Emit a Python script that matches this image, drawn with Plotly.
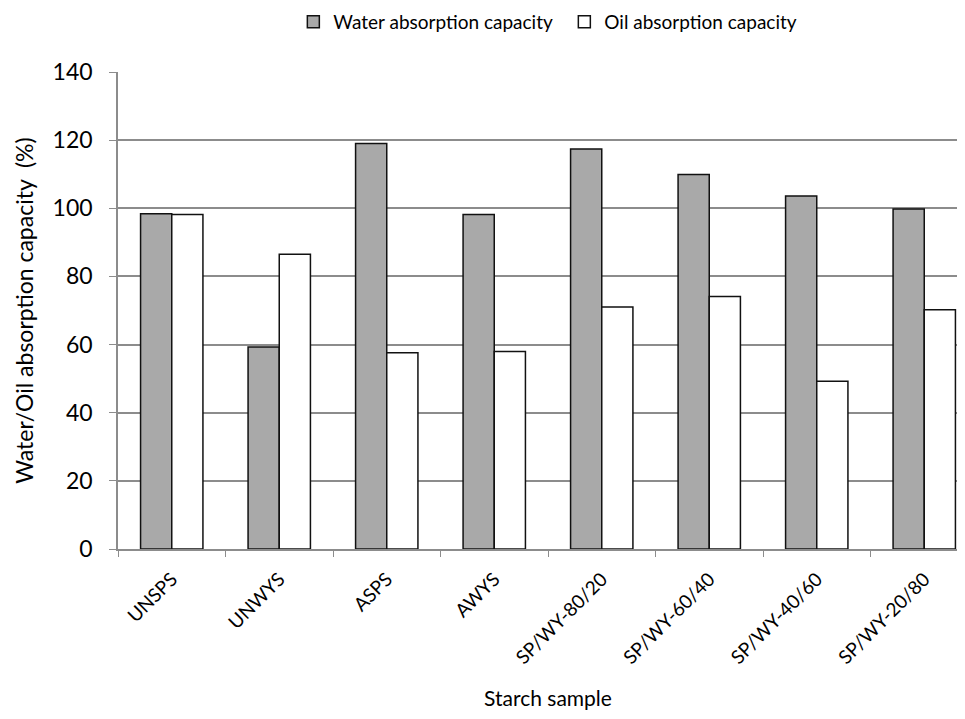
import plotly.graph_objects as go

categories = ["UNSPS", "UNWYS", "ASPS", "AWYS", "SP/WY-80/20", "SP/WY-60/40", "SP/WY-40/60", "SP/WY-20/80"]
water = [98.4, 59.3, 119.0, 98.2, 117.4, 109.9, 103.6, 99.8]
oil = [98.2, 86.5, 57.6, 58.0, 71.0, 74.1, 49.2, 70.2]
y_ticks = [0, 20, 40, 60, 80, 100, 120, 140]

FONT = "Lato, 'Open Sans', sans-serif"

fig = go.Figure()
fig.add_trace(go.Bar(x=categories, y=water, name="Water absorption capacity",
                     marker=dict(color="#a9a9a9", line=dict(color="#111111", width=1.5))))
fig.add_trace(go.Bar(x=categories, y=oil, name="Oil absorption capacity",
                     marker=dict(color="#ffffff", line=dict(color="#111111", width=1.5))))

fig.update_layout(
    width=975, height=719,
    barmode="group", bargap=0.42, bargroupgap=0,
    plot_bgcolor="white", paper_bgcolor="white",
    margin=dict(l=110, r=5, t=64, b=178, autoexpand=False),
    font=dict(family=FONT, color="#000000", size=19),
    legend=dict(orientation="h", x=0.519, xanchor="center", y=1.105, yanchor="middle",
                font=dict(size=19), itemwidth=30, entrywidth=226, traceorder="normal"),
    showlegend=True,
)
fig.update_yaxes(range=[0, 140], tickvals=y_ticks, showgrid=True, gridcolor="#8c8c8c", gridwidth=1.5,
                 showline=True, linecolor="#8c8c8c", linewidth=1.5, ticks="outside", ticklen=7,
                 tickcolor="#8c8c8c", tickfont=dict(size=23), zeroline=False, ticklabelstandoff=12,
                 title=dict(text="Water/Oil absorption capacity  (%)", font=dict(size=23), standoff=13))
fig.update_xaxes(showline=True, linecolor="#8c8c8c", linewidth=1.5, ticks="outside", ticklen=6,
                 tickcolor="#8c8c8c", tickson="boundaries", tickangle=-45, tickfont=dict(size=19),
                 ticklabelstandoff=10,
                 title=dict(text="Starch sample", font=dict(size=21), standoff=24))

fig.write_html("out.html")
